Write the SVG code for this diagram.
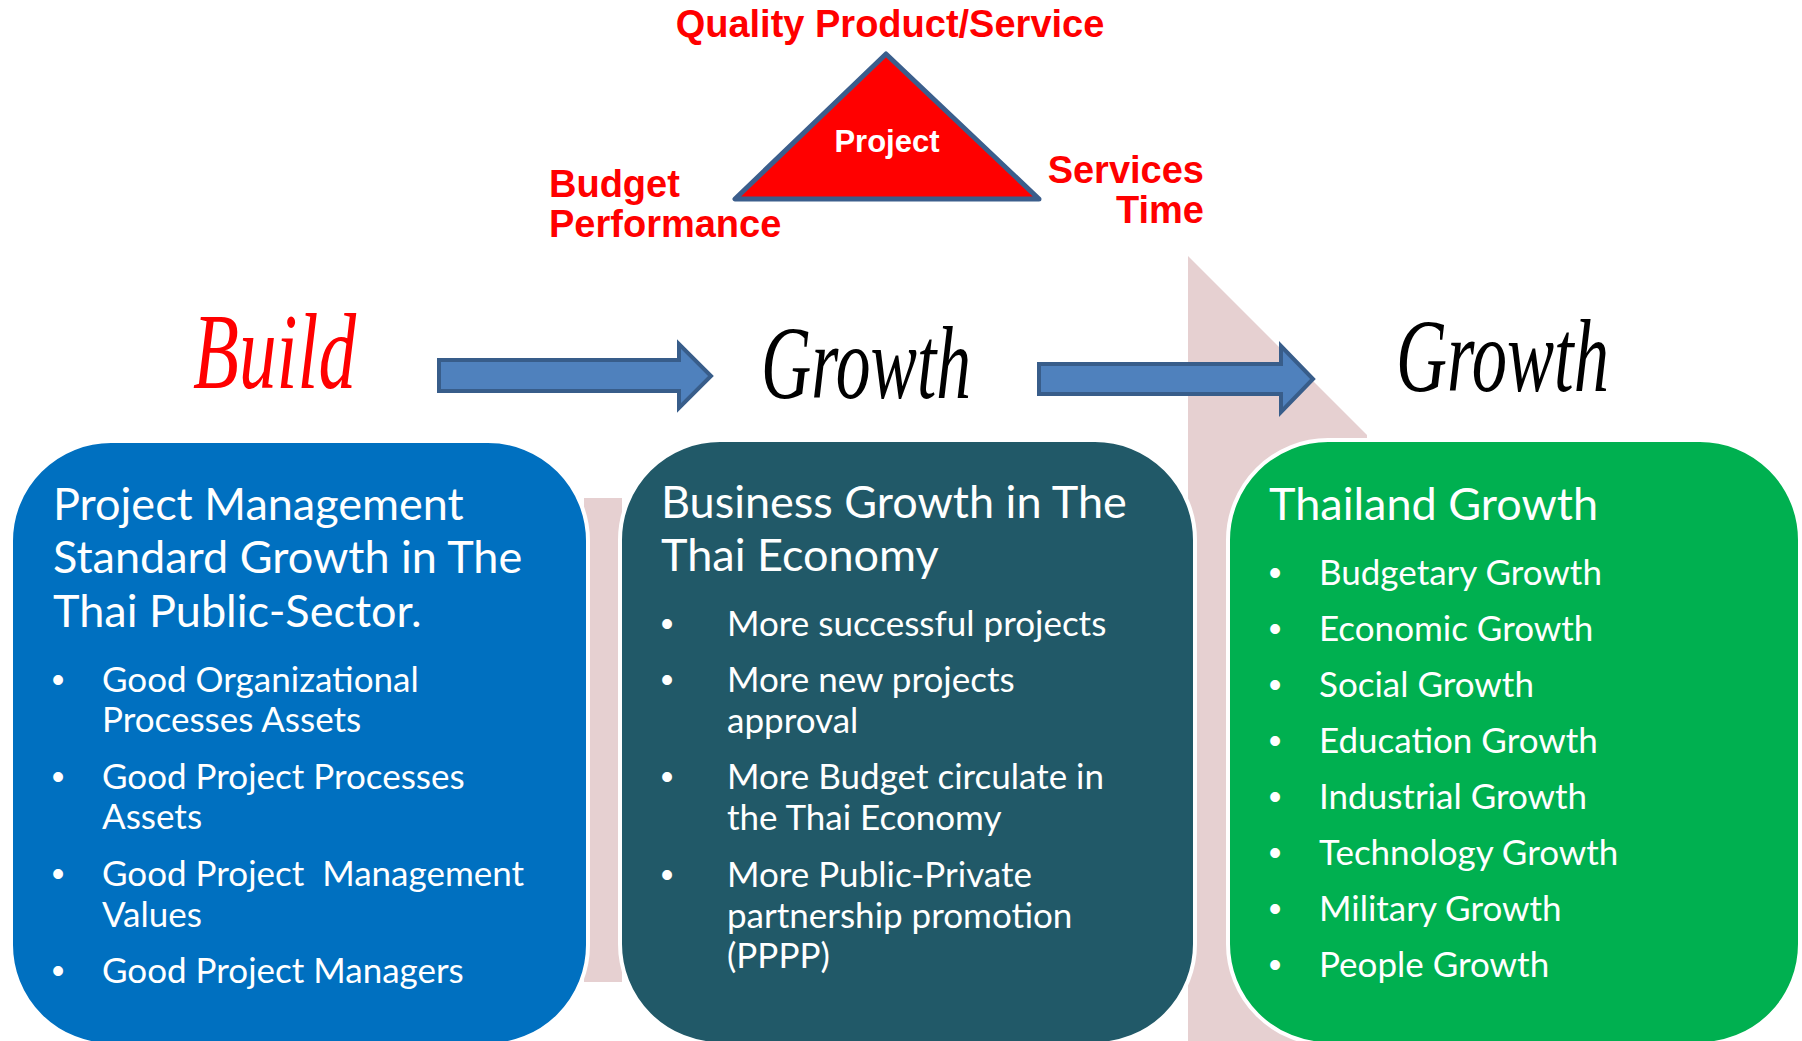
<svg xmlns="http://www.w3.org/2000/svg" width="1802" height="1041" viewBox="0 0 1802 1041">
  <style>
    .lbl { font-family: "Liberation Sans", Arial, sans-serif; font-weight: bold; font-size: 38px; fill: #FF0000; }
    .script { font-family: "Liberation Serif", "DejaVu Serif", serif; font-style: italic; }
    .box { stroke: #FFFFFF; stroke-width: 4; }
    .title { font-family: Lato, "Open Sans", sans-serif; font-size: 45px; fill: #FFFFFF; }
    .item { font-family: Lato, "Open Sans", sans-serif; font-size: 35px; fill: #FFFFFF; }
    .bul { font-family: "Liberation Sans", Arial, sans-serif; font-size: 36px; fill: #FFFFFF; text-anchor: middle; }
    .arrow { fill: #4F81BD; stroke: #385D8A; stroke-width: 4; stroke-linejoin: miter; }
    .pink { fill: #E6D0D1; }
  </style>
  <rect width="1802" height="1041" fill="#FFFFFF"/>

  <g id="background-bands">
    <rect class="pink" x="584" y="498" width="38" height="484"/>
    <polygon class="pink" points="1188,256 1367,435 1367,1041 1188,1041"/>
  </g>

  <g id="project">
    <polygon points="886,54 735,199 1039,199" fill="#FF0000" stroke="#3B5E8C" stroke-width="5" stroke-linejoin="round"/>
    <text x="887" y="152" text-anchor="middle" font-family="Liberation Sans, Arial, sans-serif" font-weight="bold" font-size="31" fill="#FFFFFF">Project</text>
  </g>

  <g id="constraint-labels">
    <text class="lbl" x="890" y="37" text-anchor="middle" font-size="39">Quality Product/Service</text>
    <text class="lbl" x="549" y="197">Budget</text>
    <text class="lbl" x="549" y="237">Performance</text>
    <text class="lbl" x="1204" y="183" text-anchor="end">Services</text>
    <text class="lbl" x="1204" y="223" text-anchor="end">Time</text>
  </g>

  <g id="stage-labels">
    <text class="script" x="193" y="388" font-size="108" fill="#FF0000" textLength="163" lengthAdjust="spacingAndGlyphs">Build</text>
    <text class="script" x="761" y="398" font-size="104" fill="#000000" textLength="210" lengthAdjust="spacingAndGlyphs">Growth</text>
    <text class="script" x="1396" y="391" font-size="104" fill="#000000" textLength="213" lengthAdjust="spacingAndGlyphs">Growth</text>
  </g>

  <g id="connectors">
    <polygon class="arrow" points="439,360 679,360 679,344 711,376 679,408 679,391 439,391"/>
    <polygon class="arrow" points="1039,364 1281,364 1281,346 1313,379 1281,412 1281,394 1039,394"/>
  </g>

  <g id="box-build">
    <rect class="box" x="11" y="441" width="577" height="604" rx="100" fill="#0070C0"/>
    <text class="title" x="53" y="520">Project Management</text>
    <text class="title" x="53" y="573">Standard Growth in The</text>
    <text class="title" x="53" y="627">Thai Public-Sector.</text>
    <text class="bul" x="58" y="692">•</text>
    <text class="item" x="102" y="692">Good Organizational</text>
    <text class="item" x="102" y="732">Processes Assets</text>
    <text class="bul" x="58" y="789">•</text>
    <text class="item" x="102" y="789">Good Project Processes</text>
    <text class="item" x="102" y="829">Assets</text>
    <text class="bul" x="58" y="886">•</text>
    <text class="item" x="102" y="886" xml:space="preserve">Good Project  Management</text>
    <text class="item" x="102" y="927">Values</text>
    <text class="bul" x="58" y="983">•</text>
    <text class="item" x="102" y="983">Good Project Managers</text>
  </g>

  <g id="box-business">
    <rect class="box" x="620" y="440" width="575" height="604" rx="100" fill="#215968"/>
    <text class="title" x="661" y="518">Business Growth in The</text>
    <text class="title" x="661" y="571">Thai Economy</text>
    <text class="bul" x="667" y="636">•</text>
    <text class="item" x="727" y="636">More successful projects</text>
    <text class="bul" x="667" y="692">•</text>
    <text class="item" x="727" y="692">More new projects</text>
    <text class="item" x="727" y="733">approval</text>
    <text class="bul" x="667" y="789">•</text>
    <text class="item" x="727" y="789">More Budget circulate in</text>
    <text class="item" x="727" y="830">the Thai Economy</text>
    <text class="bul" x="667" y="887">•</text>
    <text class="item" x="727" y="887">More Public-Private</text>
    <text class="item" x="727" y="928">partnership promotion</text>
    <text class="item" x="727" y="968">(PPPP)</text>
  </g>

  <g id="box-thailand">
    <rect class="box" x="1228" y="440" width="572" height="604" rx="100" fill="#00B050"/>
    <text class="title" x="1269" y="520">Thailand Growth</text>
    <text class="bul" x="1275" y="585">•</text>
    <text class="item" x="1319" y="585">Budgetary Growth</text>
    <text class="bul" x="1275" y="641">•</text>
    <text class="item" x="1319" y="641">Economic Growth</text>
    <text class="bul" x="1275" y="697">•</text>
    <text class="item" x="1319" y="697">Social Growth</text>
    <text class="bul" x="1275" y="753">•</text>
    <text class="item" x="1319" y="753">Education Growth</text>
    <text class="bul" x="1275" y="809">•</text>
    <text class="item" x="1319" y="809">Industrial Growth</text>
    <text class="bul" x="1275" y="865">•</text>
    <text class="item" x="1319" y="865">Technology Growth</text>
    <text class="bul" x="1275" y="921">•</text>
    <text class="item" x="1319" y="921">Military Growth</text>
    <text class="bul" x="1275" y="977">•</text>
    <text class="item" x="1319" y="977">People Growth</text>
  </g>
</svg>
